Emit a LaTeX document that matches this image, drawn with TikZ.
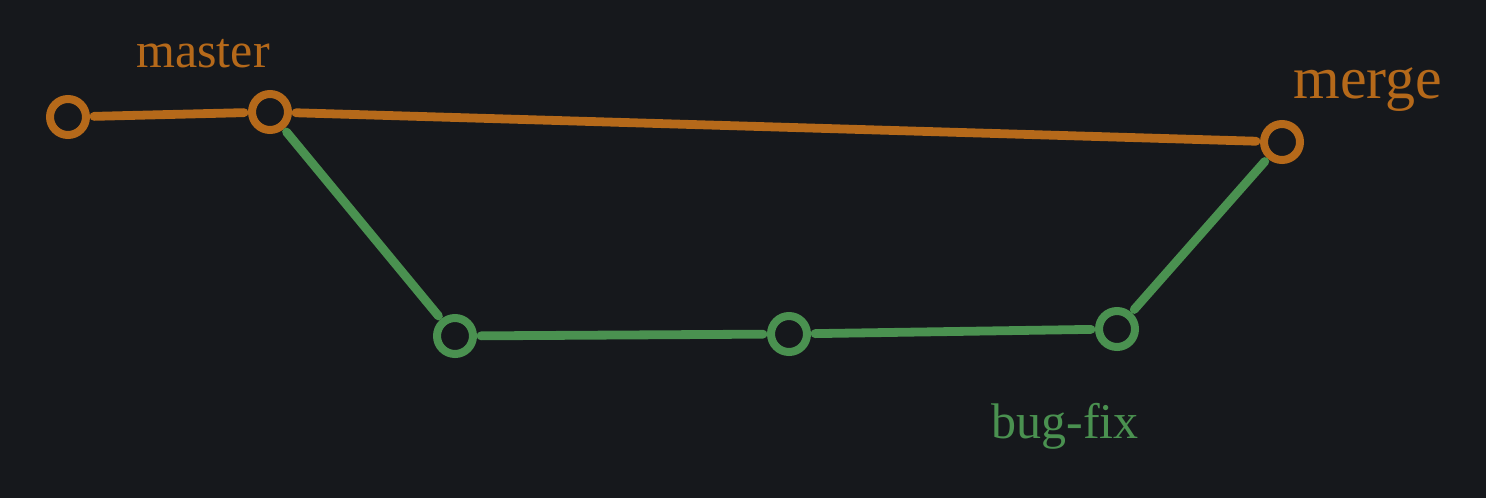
\documentclass[tikz,border=0pt]{standalone}
\usepackage{fontspec}
\setmainfont{Liberation Serif}
\usetikzlibrary{backgrounds}
\definecolor{bg}{HTML}{16181C}
\definecolor{amber}{HTML}{B5691A}
\definecolor{leaf}{HTML}{4A9150}

\begin{document}
\begin{tikzpicture}[x=0.5pt,y=-0.5pt,line cap=round]
      \tikzset{
        mcommit/.style={circle,draw=amber,line width=4pt,minimum size=18pt,inner sep=0pt},
        bcommit/.style={circle,draw=leaf,line width=4pt,minimum size=18pt,inner sep=0pt},
        mline/.style={draw=amber,line width=4.4pt,shorten <=2pt,shorten >=2pt},
        bline/.style={draw=leaf,line width=4.4pt,shorten <=2pt,shorten >=2pt},
        redo/.style={line width=2pt},
        lbl/.style={font=\fontsize{25}{25}\selectfont}
      }
      \fill[bg] (0,0) rectangle (1486,498);

      \node[mcommit] (m1) at (68,117) {};
      \node[mcommit] (m2) at (270,112) {};
      \node[mcommit] (mg) at (1282,142) {};
      \node[bcommit] (b1) at (455,336) {};
      \node[bcommit] (b2) at (789,334) {};
      \node[bcommit] (b3) at (1117,329) {};

      \node[lbl,text=amber] (lmaster) at (203,54) {master};
      \node[lbl,text=amber,font=\fontsize{30}{30}\selectfont] (lmerge) at (1368,90) {merge};
      \node[lbl,text=leaf] (lfix) at (1065,426) {bug-fix};

      % main line
      \draw[mline] (m1) -- (m2);
      \draw[mline] (m2) -- (mg);
      \draw[mline,redo,yshift=3] (m1) -- (m2);
      \draw[mline,redo,yshift=-3] (m2) -- (mg);

      % branch
      \draw[bline] (m2) -- (b1);
      \draw[bline] (b1) -- (b2);
      \draw[bline] (b2) -- (b3);
      \draw[bline] (b3) -- (mg);
      \draw[bline,redo,xshift=-4] (m2) -- (b1);
      \draw[bline,redo,yshift=3] (b1) -- (b2);
      \draw[bline,redo,xshift=-4] (b3) -- (mg);
    \end{tikzpicture}
\end{document}
